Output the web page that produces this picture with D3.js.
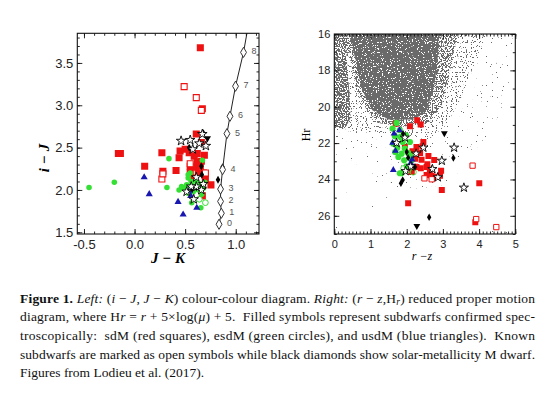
<!DOCTYPE html>
<html><head><meta charset="utf-8">
<script src="https://cdn.jsdelivr.net/npm/d3@7"></script>
<style>
html,body{margin:0;padding:0;background:#fff;}
svg{display:block;}
text{white-space:pre;}
</style></head><body>
<svg id="fig" width="557" height="401"></svg>
<script>
// ---------------- LEFT PANEL DATA: [J-K, i-J] ----------------
const leftSdM = [[0.65,3.68],[-0.16,2.43],[-0.14,2.43],[0.10,2.28],[0.27,2.44],[0.28,2.22],[0.41,2.23],[0.44,2.38],[0.45,2.46],[0.50,2.48],[0.54,2.44],[0.61,2.66],[0.67,2.96],[0.59,2.40],[0.62,2.43],[0.69,2.41],[0.55,2.28],[0.60,2.27],[0.65,2.28],[0.66,2.34],[0.63,2.20],[0.68,2.20],[0.57,2.14],[0.70,2.13],[0.755,2.06],[0.67,1.93],[0.55,2.21],[0.66,2.56],[0.62,2.33]];
const leftSdMKnown = [[0.49,3.22],[0.61,3.09],[0.66,2.94],[0.27,2.13],[0.28,2.19],[0.55,2.31],[0.70,2.20]];
const leftEsdM = [[-0.45,2.03],[-0.20,2.09],[0.34,2.37],[0.67,2.35],[0.32,2.03],[0.44,2.00],[0.565,1.85],[0.655,1.79],[0.55,2.20],[0.53,2.14],[0.56,2.10],[0.515,2.06],[0.48,2.02],[0.55,2.04],[0.60,2.04],[0.645,2.07],[0.68,2.02],[0.63,2.00],[0.58,1.98],[0.53,1.96],[0.465,2.04],[0.61,2.11],[0.695,2.09],[0.53,2.18],[0.665,1.95],[0.57,2.06],[0.62,2.05]];
const leftEsdMKnown = [[0.70,1.85],[0.64,1.89]];
const leftUsdM = [[0.095,2.15],[0.145,1.95],[0.43,1.86],[0.48,1.71],[0.615,1.79],[0.54,1.99],[0.555,1.93]];
const leftKnown = [[0.46,2.58],[0.55,2.59],[0.575,2.48],[0.64,2.55],[0.67,2.66],[0.705,2.52],[0.68,2.07],[0.61,2.15],[0.515,1.98],[0.585,1.89],[0.66,2.00],[0.61,2.04],[0.56,2.04]];
const leftDM = [[0.54,2.50],[0.68,2.67],[0.825,2.12],[0.87,2.27],[0.665,2.18],[0.66,2.28],[0.61,2.03],[0.57,2.01]];
const leftDMTri = [[0.72,2.61]];
// solar-metallicity sequence (spectral subtypes 0-8)
const seqJK = [0.835,0.858,0.85,0.85,0.87,0.913,0.943,0.998,1.077];
const seqIJ = [1.595,1.725,1.865,2.01,2.24,2.665,2.87,3.225,3.625];
const seqLabels = ["0","1","2","3","4","5","6","7","8"];
const seqExtension = [[1.115,3.88]];
const leftXTicks = [-0.5,0.0,0.5,1.0];
const leftYTicks = [1.5,2.0,2.5,3.0,3.5];

// ---------------- RIGHT PANEL DATA: [r-z, Hr] ----------------
const rightSdM = [[2.29,20.74],[2.385,20.98],[2.09,21.07],[1.70,20.93],[2.46,21.94],[2.44,22.18],[2.27,22.21],[1.95,22.21],[2.16,22.45],[2.37,22.54],[2.23,22.86],[2.41,22.91],[2.27,23.32],[2.14,23.59],[2.55,23.32],[2.60,22.71],[2.76,22.93],[2.57,23.17],[2.39,23.39],[2.23,23.30],[2.64,23.52],[2.95,23.52],[2.55,23.76],[2.69,23.81],[2.81,23.85],[2.92,23.79],[2.97,24.58],[4.005,24.21],[2.04,25.31],[3.895,26.36]];
const rightSdMKnown = [[3.82,23.24],[3.92,26.18],[4.475,26.62],[2.49,23.94],[2.69,23.99]];
const rightEsdM = [[1.72,20.89],[1.61,21.2],[1.81,21.29],[1.675,21.62],[1.83,21.66],[1.63,22.03],[1.74,22.25],[1.89,21.94],[1.98,21.57],[2.04,22.54],[1.86,22.58],[1.93,22.95],[2.14,22.95],[2.0,23.28],[1.86,23.65],[1.77,22.76],[1.68,22.49],[2.09,21.94],[1.81,23.66],[1.95,22.3],[2.1,22.7]];
const rightEsdMKnown = [[2.04,23.46],[2.18,23.59],[1.92,23.4]];
const rightUsdM = [[1.65,21.48],[1.61,21.99],[1.80,21.29],[1.69,22.43],[2.11,23.1],[2.15,22.9],[1.63,23.48]];
const rightKnown = [[3.31,22.25],[2.46,22.25],[1.97,23.54],[1.72,21.99],[1.95,21.7],[2.26,22.58],[2.11,23.28],[2.97,22.97],[3.58,24.45],[2.71,23.43],[2.86,23.88]];
const rightDM = [[2.0,22.49],[2.04,22.8],[2.23,23.32],[1.9,21.48],[2.69,23.41],[3.29,22.82],[2.62,26.08],[1.84,24.21],[1.89,24.03]];
const rightDMTri = [[3.04,21.46],[2.28,26.56]];
// background field-star cloud: outlines of density levels [r-z, Hr]
const cloudAll  = [[0,16],[5,16],[5,27],[0,27]];
const cloudHalo = [[0,16],[4.95,16],[4.8,19],[4.4,21.5],[3.8,23],[3.0,24.3],[2.0,24.6],[1.2,24.2],[0.5,23.3],[0,22.8]];
const cloudMid  = [[0,16],[4.2,16],[3.9,17.5],[3.5,19.5],[3.1,21],[2.6,21.8],[1.6,21.5],[0.8,21.4],[0,21.3]];
const cloudBody = [[0.15,16],[3.4,16],[3.2,18],[2.95,20],[2.6,20.9],[1.9,21.1],[1.2,20.9],[0.9,20.2],[0.6,19],[0.45,17.5]];
const cloudStrip= [[0,16],[0.3,16],[0.35,17.5],[0.42,19.3],[0.45,20.6],[0.3,21.2],[0,21.1]];
const cloudCore = [[0.4,16],[2.9,16],[2.85,17.5],[2.75,19],[2.55,20.2],[2.2,20.7],[1.5,20.7],[1.05,20.2],[0.75,19],[0.6,17.5]];
const cloudLevels = [cloudAll, cloudHalo, cloudMid, cloudBody, cloudStrip, cloudCore];
const rightXTicks = [0,1,2,3,4,5];
const rightYTicks = [16,18,20,22,24,26];

// ---------------- CAPTION ----------------
const captionLines = [
 [["Figure 1.","b"],[" ",""],["Left:","i"],[" (",""],["i","i"],[" − ",""],["J","i"],[", ",""],["J","i"],[" − ",""],["K","i"],[") colour-colour diagram. ",""],["Right:","i"],[" (",""],["r","i"],[" − ",""],["z","i"],[",H",""],["r","sub"],[") reduced proper motion",""]],
 [["diagram, where H",""],["r","i"],[" = ",""],["r","i"],[" + 5×log(",""],["μ","i"],[") + 5.  Filled symbols represent subdwarfs confirmed spec-",""]],
 [["troscopically:  sdM (red squares), esdM (green circles), and usdM (blue triangles).  Known",""]],
 [["subdwarfs are marked as open symbols while black diamonds show solar-metallicity M dwarf.",""]],
 [["Figures from Lodieu et al. (2017).",""]]
];

// ================= DRAWING =================
const RED="#ee1111", GREEN="#33e033", BLUE="#1818b0", GREY="#6a6a6a";
// speckle texture thresholds (style) for each cloud level: higher = sparser
const speckleThreshold = [0.80, 0.72, 0.62, 0.52, 0.47, 0.40];
const svg = d3.select("#fig");
const defs = svg.append("defs");

const L = {x0:77.3, x1:259, y0:33.3, y1:234};
const R = {x0:334.3, x1:515.3, y0:34, y1:234};
const lx = d3.scaleLinear().domain([-0.566,1.23]).range([L.x0,L.x1]);
const ly = d3.scaleLinear().domain([1.48,3.85]).range([L.y1,L.y0]);
const rx = d3.scaleLinear().domain([0,5]).range([R.x0,R.x1]);
const ry = d3.scaleLinear().domain([16,27]).range([R.y0,R.y1]);

function clip(id,P){
  defs.append("clipPath").attr("id",id).append("rect")
    .attr("x",P.x0).attr("y",P.y0).attr("width",P.x1-P.x0).attr("height",P.y1-P.y0);
}
clip("clipL",L); clip("clipR",R);

function axes(P, xs, ys, xt, yt, xminStep, yminStep, opt){
  const g = svg.append("g");
  const [xa,xb] = xs.domain(), [ya,yb] = ys.domain();
  const xMinor = d3.range(Math.ceil(Math.min(xa,xb)/xminStep-1e-6)*xminStep, Math.max(xa,xb)+1e-9, xminStep);
  const yMinor = d3.range(Math.ceil(Math.min(ya,yb)/yminStep-1e-6)*yminStep, Math.max(ya,yb)+1e-9, yminStep);
  const clean = s => { s.select(".domain").remove(); s.selectAll("line").attr("stroke","#111").attr("stroke-width",0.9); };
  const mk = (axis, tr) => g.append("g").attr("transform",tr).call(axis).call(clean);
  mk(d3.axisBottom(xs).tickValues(xMinor).tickSize(-opt.minor).tickFormat(""), `translate(0,${P.y1})`);
  mk(d3.axisTop(xs).tickValues(xMinor).tickSize(-opt.minor).tickFormat(""), `translate(0,${P.y0})`);
  mk(d3.axisLeft(ys).tickValues(yMinor).tickSize(-opt.minor).tickFormat(""), `translate(${P.x0},0)`);
  mk(d3.axisRight(ys).tickValues(yMinor).tickSize(-opt.minor).tickFormat(""), `translate(${P.x1},0)`);
  const bx = mk(d3.axisBottom(xs).tickValues(xt).tickSize(-opt.major).tickPadding(opt.xpad).tickFormat(opt.xfmt), `translate(0,${P.y1})`);
  mk(d3.axisTop(xs).tickValues(xt).tickSize(-opt.major).tickFormat(""), `translate(0,${P.y0})`);
  const by = mk(d3.axisLeft(ys).tickValues(yt).tickSize(-opt.major).tickPadding(opt.ypad).tickFormat(opt.yfmt), `translate(${P.x0},0)`);
  mk(d3.axisRight(ys).tickValues(yt).tickSize(-opt.major).tickFormat(""), `translate(${P.x1},0)`);
  [bx,by].forEach(a => a.selectAll("text").attr("font-family","Liberation Sans, Arial, sans-serif")
      .attr("font-size",opt.fs).attr("fill","#222"));
  g.selectAll("text").filter(function(){return this.textContent==="";}).remove();
  svg.append("rect").attr("x",P.x0).attr("y",P.y0).attr("width",P.x1-P.x0).attr("height",P.y1-P.y0)
    .attr("fill","none").attr("stroke","#111").attr("stroke-width",1.1);
}

function sym(g, data, xs, ys, type, size, fill, stroke, sw, rot){
  const gen = d3.symbol().type(type).size(size);
  g.selectAll(null).data(data).enter().append("path")
    .attr("d", gen)
    .attr("transform", d => `translate(${xs(d[0])},${ys(d[1])})` + (rot?` rotate(${rot})`:""))
    .attr("fill", fill).attr("stroke", stroke).attr("stroke-width", sw);
}

// ---------- LEFT PANEL ----------
const gl = svg.append("g").attr("clip-path","url(#clipL)");
const seqPts = seqJK.map((v,i)=>[v,seqIJ[i]]);
gl.append("path").datum(seqPts.concat(seqExtension))
  .attr("d", d3.line().x(d=>lx(d[0])).y(d=>ly(d[1])))
  .attr("fill","none").attr("stroke","#222").attr("stroke-width",1);
sym(gl, leftSdM, lx, ly, d3.symbolSquare, 50, RED, "none", 0);
sym(gl, leftSdMKnown, lx, ly, d3.symbolSquare, 36, "#fff", RED, 1.1);
sym(gl, leftEsdM, lx, ly, d3.symbolCircle, 24, GREEN, "none", 0);
sym(gl, leftEsdMKnown, lx, ly, d3.symbolCircle, 26, "#fff", GREEN, 1);
sym(gl, leftUsdM, lx, ly, d3.symbolTriangle, 22, BLUE, "none", 0);
sym(gl, leftDM, lx, ly, d3.symbolDiamond, 18, "#000", "none", 0);
sym(gl, leftDMTri, lx, ly, d3.symbolTriangle, 22, "#000", "none", 0, 180);
sym(gl, leftKnown, lx, ly, d3.symbolStar, 28, "#fff", "#000", 0.9);
sym(gl, seqPts, lx, ly, d3.symbolDiamond, 30, "#fff", "#333", 1);
gl.selectAll(null).data(seqPts).enter().append("text")
  .attr("x", d=>lx(d[0])+8).attr("y", d=>ly(d[1])+2)
  .attr("font-family","Liberation Sans, Arial, sans-serif").attr("font-size",9).attr("fill","#555")
  .text((d,i)=>seqLabels[i]);

axes(L, lx, ly, leftXTicks, leftYTicks, 0.1, 0.1,
  {major:5, minor:2.5, xpad:6, ypad:4, fs:13, xfmt:d=>d.toFixed(1), yfmt:d=>d.toFixed(1)});

svg.append("text").attr("transform","translate(49,158) rotate(-90)").attr("text-anchor","middle")
  .attr("font-family","Liberation Serif, serif").attr("font-size",15).attr("font-weight","bold").attr("font-style","italic")
  .text("i − J");
svg.append("text").attr("x",168).attr("y",263).attr("text-anchor","middle")
  .attr("font-family","Liberation Serif, serif").attr("font-size",15).attr("font-weight","bold").attr("font-style","italic")
  .text("J − K");

// ---------- RIGHT PANEL ----------
const gr = svg.append("g").attr("clip-path","url(#clipR)");
cloudLevels.forEach((poly,i)=>{
  const id = "speck"+i, t = speckleThreshold[i];
  const f = defs.append("filter").attr("id",id).attr("x",0).attr("y",0).attr("width",1).attr("height",1)
    .attr("color-interpolation-filters","sRGB");
  f.append("feTurbulence").attr("type","fractalNoise").attr("baseFrequency",0.8).attr("numOctaves",1)
    .attr("seed",3+i*7).attr("result","n");
  f.append("feColorMatrix").attr("in","n").attr("type","matrix")
    .attr("values","0 0 0 0 0  0 0 0 0 0  0 0 0 0 0  1 0 0 0 0").attr("result","a");
  f.append("feComponentTransfer").attr("in","a").attr("result","t")
    .append("feFuncA").attr("type","linear").attr("slope",60).attr("intercept",-60*t);
  f.append("feComposite").attr("in","SourceGraphic").attr("in2","t").attr("operator","in");
  gr.append("path")
    .attr("d", d3.line().x(d=>rx(d[0])).y(d=>ry(d[1]))(poly)+"Z")
    .attr("fill",GREY).attr("filter",`url(#${id})`);
});
sym(gr, rightSdM, rx, ry, d3.symbolSquare, 36, RED, "none", 0);
sym(gr, rightSdMKnown, rx, ry, d3.symbolSquare, 28, "#fff", RED, 1);
sym(gr, rightEsdM, rx, ry, d3.symbolCircle, 30, GREEN, "none", 0);
sym(gr, rightEsdMKnown, rx, ry, d3.symbolCircle, 30, "none", GREEN, 0.9);
sym(gr, rightUsdM, rx, ry, d3.symbolTriangle, 20, BLUE, "none", 0);
sym(gr, rightDM, rx, ry, d3.symbolDiamond, 16, "#000", "none", 0);
sym(gr, rightDMTri, rx, ry, d3.symbolTriangle, 20, "#000", "none", 0, 180);
sym(gr, rightKnown, rx, ry, d3.symbolStar, 26, "#fff", "#000", 0.9);

axes(R, rx, ry, rightXTicks, rightYTicks, 0.1, 1,
  {major:5, minor:2.5, xpad:6, ypad:4, fs:11, xfmt:d=>String(d), yfmt:d=>String(d)});

svg.append("text").attr("transform","translate(310,135) rotate(-90)").attr("text-anchor","middle")
  .attr("font-family","Liberation Serif, serif").attr("font-size",12)
  .text("Hr");
svg.append("text").attr("x",422).attr("y",260).attr("text-anchor","middle")
  .attr("font-family","Liberation Serif, serif").attr("font-size",12).attr("font-style","italic")
  .text("r −z");

// ---------- CAPTION ----------
const capBase = [302.5,321.2,339.8,358.5,377.2];
captionLines.forEach((segs,li)=>{
  const t = svg.append("text").attr("x",20).attr("y",capBase[li])
    .attr("font-family","Liberation Serif, Times New Roman, serif").attr("font-size",13.5).attr("fill","#111");
  if (li < 4) t.attr("textLength",515).attr("lengthAdjust","spacing");
  let shifted = false;
  segs.forEach(([s,st])=>{
    const ts = t.append("tspan").text(s);
    if (st==="b") ts.attr("font-weight","bold");
    if (st==="i") ts.attr("font-style","italic");
    if (st==="sub") { ts.attr("font-style","italic").attr("font-size",9.5).attr("dy",2.5); shifted = true; }
    else if (shifted) { ts.attr("dy",-2.5); shifted = false; }
  });
});
</script></body></html>
